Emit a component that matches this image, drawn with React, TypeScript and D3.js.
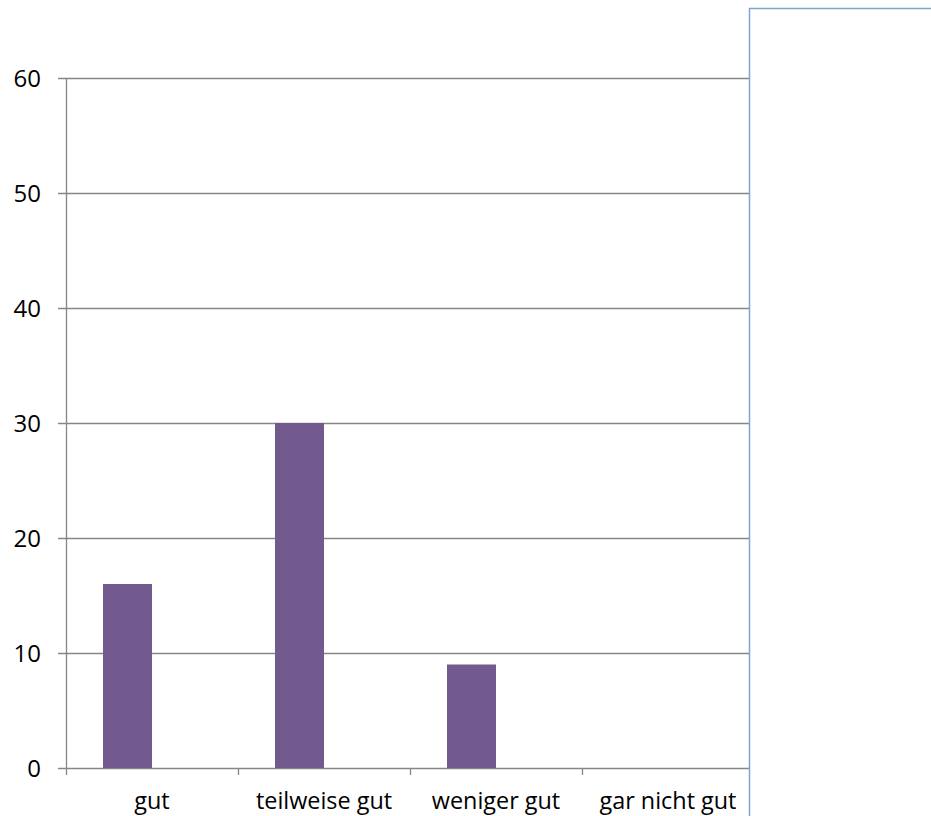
import React from "react";
import * as d3 from "d3";

const categories = ["gut", "teilweise gut", "weniger gut", "gar nicht gut"];
const values = [16, 30, 9, 0];
const series = ["Reihe 1", "Reihe 2"];
const yTicks = [0, 10, 20, 30, 40, 50, 60];

const W = 931;
const H = 816;
const left = 66;
const right = 754;
const top = 78;
const bottom = 768;
const font = "'Open Sans', sans-serif";
const axisColor = "#868686";

export default function App() {
  const x = d3.scaleBand<string>().domain(categories).range([left, right]).padding(0);
  const sub = d3
    .scaleBand<string>()
    .domain(series)
    .range([0, x.bandwidth()])
    .paddingInner(0)
    .paddingOuter(0.755);
  const y = d3.scaleLinear().domain([0, 60]).range([bottom, top]);

  return (
    <div style={{ position: "fixed", left: 0, top: 0 }}>
      <svg width={W} height={H} style={{ display: "block", background: "#fff" }}>
        {/* horizontal gridlines */}
        {yTicks.map((t) => (
          <line
            key={"g" + t}
            x1={left - 8}
            x2={right}
            y1={Math.round(y(t)) + 0.5}
            y2={Math.round(y(t)) + 0.5}
            stroke={axisColor}
            strokeWidth={1.3}
          />
        ))}
        {/* y axis labels */}
        {yTicks.map((t) => (
          <text
            key={"l" + t}
            x={41}
            y={y(t)}
            dy="0.36em"
            textAnchor="end"
            fontFamily={font}
            fontSize={24}
            fill="#000"
          >
            {t}
          </text>
        ))}
        {/* bars */}
        {categories.map((c, i) =>
          values[i] > 0 ? (
            <rect
              key={c}
              x={(x(c) ?? 0) + (sub(series[0]) ?? 0)}
              y={y(values[i])}
              width={sub.bandwidth()}
              height={y(0) - y(values[i])}
              fill="#725a8f"
            />
          ) : null
        )}
        {/* y axis */}
        <line x1={left + 0.5} x2={left + 0.5} y1={top} y2={bottom} stroke={axisColor} strokeWidth={1.3} />
        {/* x axis ticks */}
        {[...categories.map((c) => x(c) ?? 0), right].map((p, i) => (
          <line
            key={"t" + i}
            x1={Math.round(p) + 0.5}
            x2={Math.round(p) + 0.5}
            y1={bottom}
            y2={bottom + 7}
            stroke={axisColor}
            strokeWidth={1.3}
          />
        ))}
        {/* category labels */}
        {categories.map((c) => (
          <text
            key={"c" + c}
            x={(x(c) ?? 0) + x.bandwidth() / 2}
            y={809}
            textAnchor="middle"
            fontFamily={font}
            fontSize={23.4}
            fill="#000"
          >
            {c}
          </text>
        ))}
        {/* legend box */}
        <rect x={749.5} y={8.5} width={200} height={820} fill="#fff" stroke="#7ea3d6" strokeWidth={1.5} />
      </svg>
    </div>
  );
}
